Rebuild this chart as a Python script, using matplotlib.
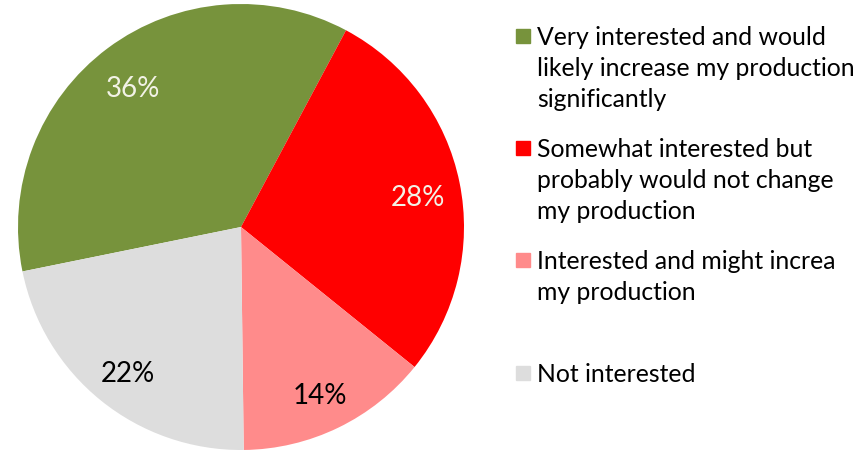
import matplotlib
matplotlib.use("Agg")
import matplotlib.pyplot as plt
from matplotlib.patches import Rectangle

categories = [
    "Very interested and would\nlikely increase my production\nsignificantly",
    "Somewhat interested but\nprobably would not change\nmy production",
    "Interested and might increa\nmy production",
    "Not interested",
]
shares = [36, 28, 14, 22]
colors = ["#77933C", "#FF0000", "#FF8B8B", "#DDDDDD"]
label_colors = ["#F2F2E6", "#F2F2E6", "black", "black"]

plt.rcParams["font.family"] = ["Lato", "DejaVu Sans"]

W, H = 857, 460
fig = plt.figure(figsize=(W / 100, H / 100), dpi=100)
R_PX = 223
ax = fig.add_axes([(241 - R_PX) / W, (H - 228 - R_PX) / H, 2 * R_PX / W, 2 * R_PX / H])

wedges, _, autotexts = ax.pie(
    shares, colors=colors, startangle=191.5, counterclock=False,
    autopct="%d%%", pctdistance=0.81, radius=1.0,
    wedgeprops={"linewidth": 0},
)
for t, c in zip(autotexts, label_colors):
    x, y = t.get_position()
    t.set_position((x, y - 0.025))
    t.set_color(c)
    t.set_fontsize(20)
ax.set_xlim(-1, 1)
ax.set_ylim(-1, 1)
ax.set_aspect("equal")
ax.axis("off")

# legend drawn by hand: square marker + wrapped label lines per entry
entry_base = [45, 157, 269, 382]
line_step = 31
for base, col, lab in zip(entry_base, colors, categories):
    fig.patches.append(Rectangle((516 / W, (H - base + 1) / H), 14 / W, 14 / H,
                                 transform=fig.transFigure, color=col))
    for i, line in enumerate(lab.split("\n")):
        fig.text(537 / W, (H - base - i * line_step) / H, line, fontsize=17.8,
                 va="baseline", ha="left", color="black")

fig.savefig("out.png", dpi=100)
